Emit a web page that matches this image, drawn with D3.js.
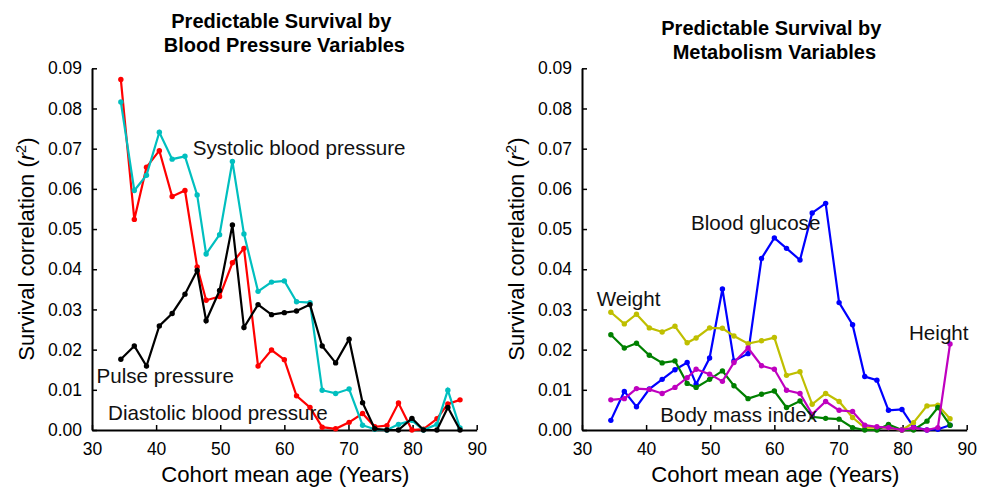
<!DOCTYPE html>
<html>
<head>
<meta charset="utf-8">
<script src="https://cdn.jsdelivr.net/npm/d3@7"></script>
<style>
  html, body { margin: 0; padding: 0; background: #fff; }
  svg { display: block; font-family: "Liberation Sans", Arial, Helvetica, sans-serif; }
</style>
</head>
<body>
<svg id="chart" width="987" height="488"></svg>
<script>
// ---- Data ----
const ages = [34.5, 36.6, 38.5, 40.5, 42.5, 44.5, 46.4, 47.8, 49.9, 51.9, 53.7, 55.9, 58.0, 60.0,
              61.9, 64.0, 65.9, 68.0, 70.1, 72.2, 74.1, 76.0, 77.8, 79.9, 81.7, 83.8, 85.5, 87.4];

const systolic  = [0.0816, 0.0596, 0.0634, 0.0741, 0.0674, 0.0681, 0.0585, 0.0438, 0.0486, 0.0668, 0.0488, 0.0345, 0.0368, 0.0371,
                   0.0319, 0.0317, 0.0099, 0.0091, 0.0102, 0.0012, 0.0002, 0.0000, 0.0014, 0.0024, 0.0000, 0.0014, 0.0099, 0.0005];
const diastolic = [0.0872, 0.0524, 0.0654, 0.0695, 0.0581, 0.0596, 0.0406, 0.0323, 0.0332, 0.0416, 0.0452, 0.0159, 0.0199, 0.0175,
                   0.0085, 0.0056, 0.0007, 0.0003, 0.0019, 0.0041, 0.0008, 0.0011, 0.0067, 0.0000, 0.0002, 0.0028, 0.0065, 0.0075];
const pulse     = [0.0176, 0.0209, 0.0159, 0.0259, 0.0290, 0.0338, 0.0397, 0.0272, 0.0347, 0.0510, 0.0255, 0.0312, 0.0287, 0.0292,
                   0.0296, 0.0312, 0.0209, 0.0167, 0.0226, 0.0068, 0.0003, 0.0000, 0.0000, 0.0029, 0.0000, 0.0000, 0.0056, 0.0000];

const glucose = [0.0024, 0.0096, 0.0058, 0.0102, 0.0126, 0.0150, 0.0168, 0.0114, 0.0179, 0.0351, 0.0172, 0.0190, 0.0427, 0.0478,
                 0.0452, 0.0423, 0.0540, 0.0564, 0.0317, 0.0262, 0.0133, 0.0124, 0.0049, 0.0051, 0.0008, 0.0000, 0.0002, 0.0012];
const weight  = [0.0293, 0.0264, 0.0288, 0.0254, 0.0244, 0.0258, 0.0217, 0.0229, 0.0254, 0.0253, 0.0234, 0.0215, 0.0222, 0.0230,
                 0.0136, 0.0145, 0.0064, 0.0091, 0.0071, 0.0031, 0.0006, 0.0006, 0.0006, 0.0000, 0.0018, 0.0060, 0.0062, 0.0028];
const bmi     = [0.0237, 0.0204, 0.0216, 0.0186, 0.0167, 0.0172, 0.0116, 0.0106, 0.0126, 0.0147, 0.0110, 0.0078, 0.0089, 0.0097,
                 0.0056, 0.0072, 0.0033, 0.0029, 0.0027, 0.0006, 0.0000, 0.0000, 0.0014, 0.0000, 0.0000, 0.0022, 0.0056, 0.0012];
const height  = [0.0075, 0.0078, 0.0103, 0.0101, 0.0091, 0.0106, 0.0130, 0.0151, 0.0139, 0.0121, 0.0168, 0.0204, 0.0160, 0.0151,
                 0.0099, 0.0091, 0.0039, 0.0071, 0.0049, 0.0046, 0.0012, 0.0008, 0.0006, 0.0000, 0.0006, 0.0000, 0.0006, 0.0214];

const xTicks = [30, 40, 50, 60, 70, 80, 90];
const yTicks = [0, 0.01, 0.02, 0.03, 0.04, 0.05, 0.06, 0.07, 0.08, 0.09];

const leftTitle  = ["Predictable Survival by", "Blood Pressure Variables"];
const rightTitle = ["Predictable Survival by", "Metabolism Variables"];
const xLabel = "Cohort mean age (Years)";

// ---- Panels ----
const svg = d3.select("#chart");

const panels = [
  {
    left: 92, titleY: [28.3, 52.3], title: leftTitle,
    series: [
      { values: diastolic, color: "#ff0000" },
      { values: systolic,  color: "#00bfbf" },
      { values: pulse,     color: "#000000" }
    ],
    labels: [
      { text: "Systolic blood pressure",  age: 45.7, val: 0.0684 },
      { text: "Pulse pressure",           age: 30.7, val: 0.0117 },
      { text: "Diastolic blood pressure", age: 32.5, val: 0.0026 }
    ]
  },
  {
    left: 582, titleY: [35, 59.3], title: rightTitle,
    series: [
      { values: glucose, color: "#0000ff" },
      { values: weight,  color: "#bfbf00" },
      { values: bmi,     color: "#008000" },
      { values: height,  color: "#bf00bf" }
    ],
    labels: [
      { text: "Blood glucose",   age: 47.0, val: 0.0498 },
      { text: "Weight",          age: 32.3, val: 0.0308 },
      { text: "Height",          age: 81.0, val: 0.0224 },
      { text: "Body mass index", age: 42.2, val: 0.0020 }
    ]
  }
];

panels.forEach(p => {
  const x = d3.scaleLinear().domain([30, 90]).range([p.left, p.left + 384.7]);
  const y = d3.scaleLinear().domain([0, 0.09]).range([430, 68.3]);
  const g = svg.append("g");

  // Axes
  const xAxis = d3.axisBottom(x).tickValues(xTicks).tickSizeInner(-5).tickSizeOuter(0)
    .tickPadding(13).tickFormat(d3.format("d"));
  const yAxis = d3.axisLeft(y).tickValues(yTicks).tickSizeInner(-5).tickSizeOuter(0)
    .tickPadding(10).tickFormat(d3.format(".2f"));

  const gx = g.append("g").attr("transform", `translate(0,${y(0)})`).call(xAxis);
  const gy = g.append("g").attr("transform", `translate(${x(30)},0)`).call(yAxis);
  [gx, gy].forEach(a => {
    a.select(".domain").attr("stroke", "#000").attr("stroke-width", 2);
    a.selectAll(".tick line").attr("stroke", "#000").attr("stroke-width", 1.5);
    a.selectAll(".tick text").attr("fill", "#000").attr("font-size", 17.5)
      .attr("font-family", "'Liberation Sans', Arial, sans-serif");
  });

  // Series
  const line = d3.line().x((d, i) => x(ages[i])).y(d => y(d));
  p.series.forEach(s => {
    g.append("path").datum(s.values)
      .attr("d", line).attr("fill", "none")
      .attr("stroke", s.color).attr("stroke-width", 2.2).attr("stroke-linejoin", "miter");
    g.selectAll(null).data(s.values).enter().append("circle")
      .attr("cx", (d, i) => x(ages[i])).attr("cy", d => y(d))
      .attr("r", 2.7).attr("fill", s.color);
  });

  // In-plot labels
  p.labels.forEach(l => {
    g.append("text").attr("x", x(l.age)).attr("y", y(l.val))
      .attr("font-size", 20.6).attr("fill", "#111").text(l.text);
  });

  // Title
  const cx = (x(30) + x(90)) / 2;
  g.append("text").attr("x", cx - 3).attr("y", p.titleY[0]).attr("text-anchor", "middle")
    .attr("font-size", 20).attr("font-weight", "bold").text(p.title[0]);
  g.append("text").attr("x", cx).attr("y", p.titleY[1]).attr("text-anchor", "middle")
    .attr("font-size", 20).attr("font-weight", "bold").text(p.title[1]);

  // X label
  g.append("text").attr("x", cx + 1).attr("y", 482).attr("text-anchor", "middle")
    .attr("font-size", 22.2).text(xLabel);

  // Y label (rotated)
  const yl = g.append("text")
    .attr("transform", `translate(${p.left - 58},${(y(0) + y(0.09)) / 2}) rotate(-90)`)
    .attr("text-anchor", "middle").attr("font-size", 22);
  yl.append("tspan").text("Survival correlation (");
  yl.append("tspan").attr("font-style", "italic").text("r");
  yl.append("tspan").attr("font-size", 14.5).attr("dy", -8.5).text("2");
  yl.append("tspan").attr("dy", 8.5).text(")");
});
</script>
</body>
</html>
